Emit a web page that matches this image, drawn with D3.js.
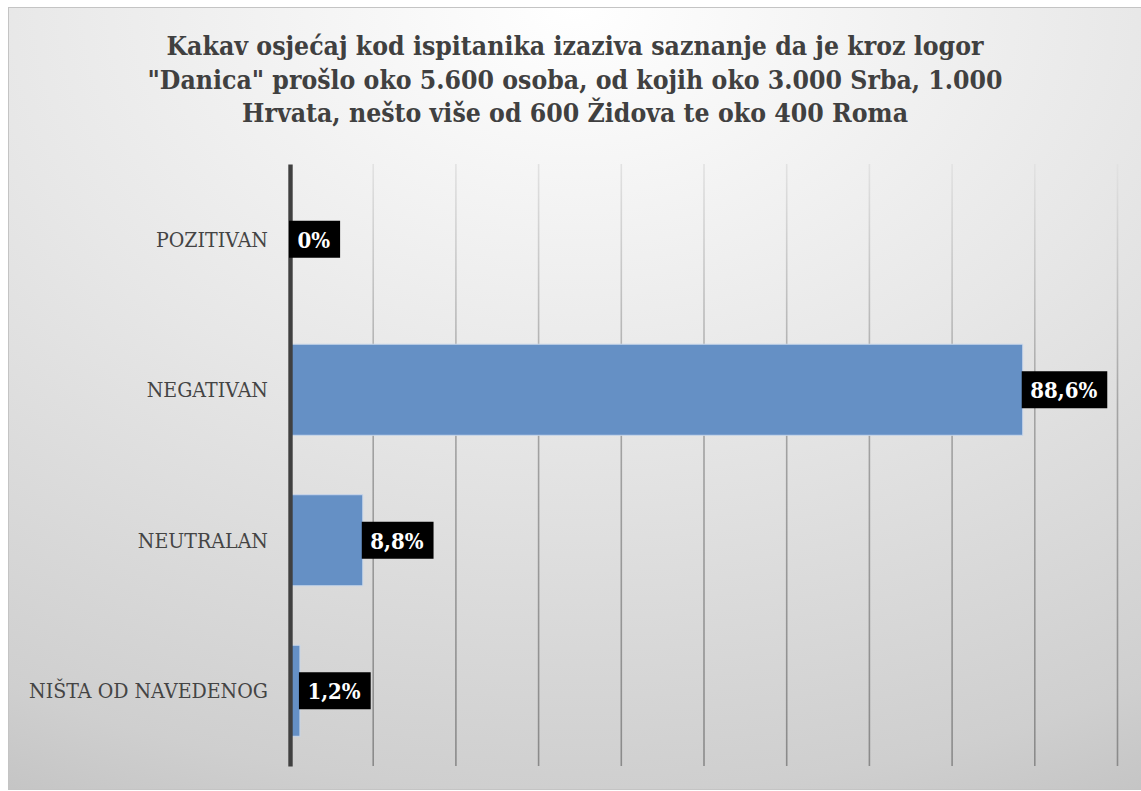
<!DOCTYPE html>
<html>
<head>
<meta charset="utf-8">
<script src="https://cdn.jsdelivr.net/npm/d3@7"></script>
<style>
  html, body { margin: 0; padding: 0; background: #ffffff; }
  svg { display: block; }
</style>
</head>
<body>
<div id="chart"></div>
<script>
// chart data
const categories = ["POZITIVAN", "NEGATIVAN", "NEUTRALAN", "NIŠTA OD NAVEDENOG"];
const values = [0, 88.6, 8.8, 1.2];
const valueLabels = ["0%", "88,6%", "8,8%", "1,2%"];
const gridTicks = [10, 20, 30, 40, 50, 60, 70, 80, 90, 100];
const titleLines = [
  "Kakav osjećaj kod ispitanika izaziva saznanje da je kroz logor",
  "\"Danica\" prošlo oko 5.600 osoba, od kojih oko 3.000 Srba, 1.000",
  "Hrvata, nešto više od 600 Židova te oko 400 Roma"
];

(function() {
  const width = 1141, height = 791;
  const plot = { left: 290, right: 1117, top: 164, bottom: 766 };
  const plotH = plot.bottom - plot.top;

  const svg = d3.select("#chart")
    .append("svg")
    .attr("width", width)
    .attr("height", height);

  const defs = svg.append("defs");

  // Background: radial gradient from the top centre
  const bg = defs.append("radialGradient")
    .attr("id", "bg")
    .attr("cx", 0.5).attr("cy", 0)
    .attr("r", 1.15);
  bg.append("stop").attr("offset", 0).attr("stop-color", "#ffffff");
  bg.append("stop").attr("offset", 0.45).attr("stop-color", "#e7e7e7");
  bg.append("stop").attr("offset", 0.87).attr("stop-color", "#cfcfcf");
  bg.append("stop").attr("offset", 1).attr("stop-color", "#c2c2c2");

  // Gridlines fade from light at the top to grey at the bottom
  // (coordinates are those of the grid group, which sits at the plot bottom)
  const gg = defs.append("linearGradient")
    .attr("id", "grid")
    .attr("gradientUnits", "userSpaceOnUse")
    .attr("x1", 0).attr("y1", -plotH)
    .attr("x2", 0).attr("y2", 0);
  gg.append("stop").attr("offset", 0).attr("stop-color", "#e2e2e2");
  gg.append("stop").attr("offset", 0.4).attr("stop-color", "#a4a4a4");
  gg.append("stop").attr("offset", 1).attr("stop-color", "#8a8a8a");

  svg.append("rect")
    .attr("x", 8.5).attr("y", 7.5)
    .attr("width", width - 8).attr("height", height - 9)
    .attr("fill", "url(#bg)")
    .attr("stroke", "#c4c4c4")
    .attr("stroke-width", 1);

  // Title
  const title = svg.append("text")
    .attr("text-anchor", "middle")
    .attr("font-family", "'DejaVu Serif', serif")
    .attr("font-weight", "bold")
    .attr("font-size", 25.5)
    .attr("fill", "#404040");
  const titleWidths = [817, 855, 666];
  titleLines.forEach((line, i) => {
    title.append("tspan")
      .attr("x", 575)
      .attr("y", 55 + i * 33.5)
      .attr("textLength", titleWidths[i])
      .attr("lengthAdjust", "spacingAndGlyphs")
      .text(line);
  });

  // Scales
  const x = d3.scaleLinear()
    .domain([0, 100])
    .range([plot.left, plot.right]);

  const y = d3.scaleBand()
    .domain(categories)
    .range([plot.top, plot.bottom])
    .paddingInner(0.395)
    .paddingOuter(0.1975);

  // Vertical gridlines
  const grid = svg.append("g")
    .attr("transform", `translate(0,${plot.bottom})`)
    .call(d3.axisBottom(x)
      .tickValues(gridTicks)
      .tickSize(-plotH)
      .tickFormat(""));
  grid.select(".domain").remove();
  grid.selectAll(".tick line")
    .attr("stroke", "url(#grid)")
    .attr("stroke-width", 1.6);

  // Bars
  svg.selectAll("rect.bar")
    .data(values)
    .enter().append("rect")
    .attr("class", "bar")
    .attr("x", x(0))
    .attr("y", (d, i) => y(categories[i]))
    .attr("width", d => x(d) - x(0))
    .attr("height", y.bandwidth())
    .attr("fill", "#6590c5")
    .attr("stroke", "#c9d7ea")
    .attr("stroke-width", d => d > 0 ? 1 : 0);

  // Category axis
  const yAxis = svg.append("g")
    .attr("transform", `translate(${plot.left},0)`)
    .call(d3.axisLeft(y).tickSize(0).tickSizeOuter(0).tickPadding(22));
  yAxis.select(".domain")
    .attr("stroke", "#404040")
    .attr("stroke-width", 4.4);
  yAxis.selectAll(".tick text")
    .attr("font-family", "'DejaVu Serif', serif")
    .attr("font-size", 21)
    .attr("fill", "#444444")
    .attr("dy", "0.36em")
    .each(function() {
      // narrower glyphs, closer to the original typeface
      const w = this.getComputedTextLength();
      d3.select(this)
        .attr("textLength", w * 0.905)
        .attr("lengthAdjust", "spacingAndGlyphs");
    });

  // Data labels: white bold text on black boxes
  const labels = svg.selectAll("g.label")
    .data(values)
    .enter().append("g")
    .attr("class", "label")
    .attr("transform", (d, i) =>
      `translate(${x(d) - 1},${y(categories[i]) + y.bandwidth() / 2})`);

  labels.append("rect")
    .attr("fill", "#000000");

  labels.append("text")
    .attr("x", 8.5)
    .attr("dy", "0.37em")
    .attr("font-family", "'DejaVu Serif', serif")
    .attr("font-weight", "bold")
    .attr("font-size", 22.5)
    .attr("fill", "#ffffff")
    .text((d, i) => valueLabels[i]);

  labels.each(function() {
    const g = d3.select(this);
    const t = g.select("text");
    const w = t.node().getComputedTextLength() * 0.88;
    t.attr("textLength", w).attr("lengthAdjust", "spacingAndGlyphs");
    g.select("rect")
      .attr("x", 0)
      .attr("y", -18.5)
      .attr("width", w + 18.5)
      .attr("height", 37);
  });
})();
</script>
</body>
</html>
